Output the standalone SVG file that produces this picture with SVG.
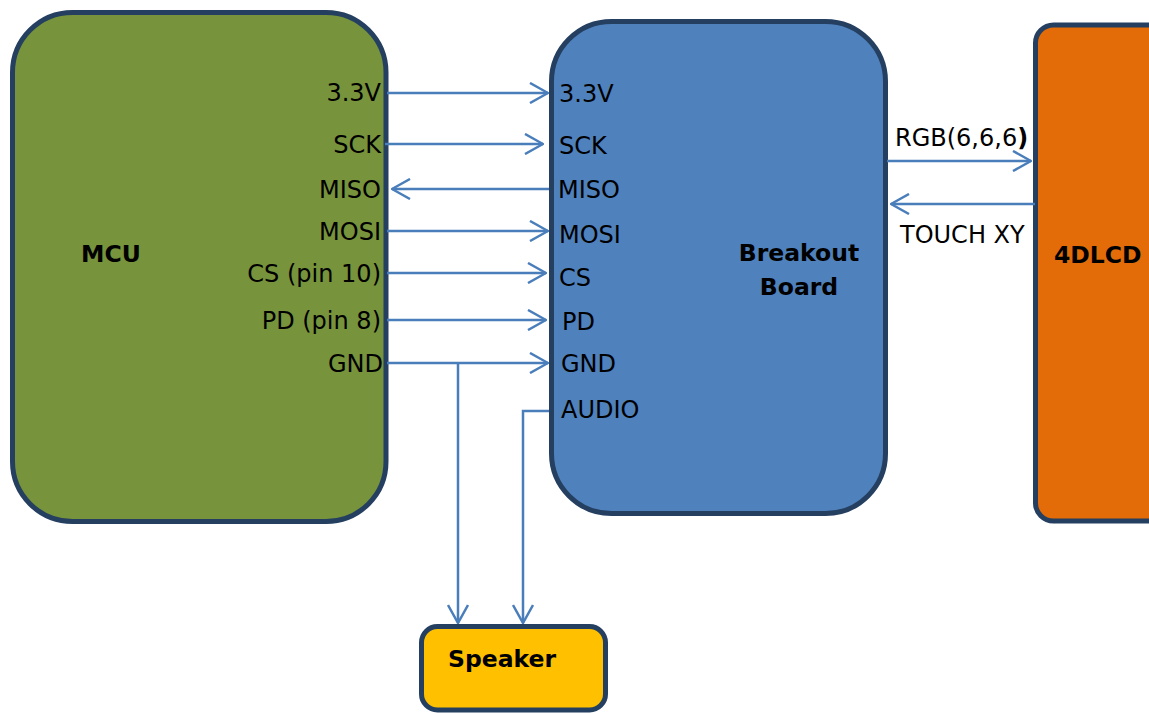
<svg xmlns="http://www.w3.org/2000/svg" width="1149" height="713" viewBox="0 0 1149 713">
  <style>
    .box { stroke: #243F60; stroke-width: 5; }
    .lbl { font-family: "DejaVu Sans", Verdana, sans-serif; font-size: 24px; fill: #000; }
    .ttl { font-family: "DejaVu Sans", Verdana, sans-serif; font-size: 23.5px; font-weight: bold; fill: #000; }
    .r { text-anchor: end; }
    .c { text-anchor: middle; }
    .wire { fill: none; stroke: #4A7EBB; stroke-width: 2.5; }
  </style>
  <defs>
    <marker id="arrow" viewBox="0 0 20 22" refX="19" refY="11" markerWidth="20" markerHeight="22" markerUnits="userSpaceOnUse" orient="auto">
      <polyline points="1,1 19,11 1,21" fill="none" stroke="#4A7EBB" stroke-width="2.5"/>
    </marker>
  </defs>
  <rect width="1149" height="713" fill="#fff"/>

  <g id="mcu">
    <rect class="box" x="12.5" y="12.5" width="373.5" height="509" rx="60" ry="60" fill="#77933C"/>
    <text class="ttl" x="81" y="262">MCU</text>
    <text class="lbl r" x="381" y="101">3.3V</text>
    <text class="lbl r" x="381" y="153">SCK</text>
    <text class="lbl r" x="381" y="198">MISO</text>
    <text class="lbl r" x="381" y="240">MOSI</text>
    <text class="lbl r" x="381" y="282">CS (pin 10)</text>
    <text class="lbl r" x="381" y="329">PD (pin 8)</text>
    <text class="lbl r" x="383" y="372">GND</text>
  </g>

  <g id="breakout">
    <rect class="box" x="551.5" y="21.5" width="334" height="492" rx="60" ry="60" fill="#4F81BD"/>
    <text class="ttl c" x="799" y="261">Breakout</text>
    <text class="ttl c" x="799" y="295">Board</text>
    <text class="lbl" x="559" y="102">3.3V</text>
    <text class="lbl" x="559" y="154">SCK</text>
    <text class="lbl" x="558" y="198">MISO</text>
    <text class="lbl" x="559" y="243">MOSI</text>
    <text class="lbl" x="559" y="286">CS</text>
    <text class="lbl" x="562" y="330">PD</text>
    <text class="lbl" x="561" y="372">GND</text>
    <text class="lbl" x="561" y="418">AUDIO</text>
  </g>

  <g id="lcd">
    <rect class="box" x="1035.5" y="25" width="130" height="496" rx="18" ry="18" fill="#E36C09"/>
    <text class="ttl" x="1054" y="263">4DLCD</text>
  </g>

  <g id="speaker">
    <rect class="box" x="421.5" y="626.5" width="184" height="83.5" rx="16" ry="16" fill="#FFC000"/>
    <text class="ttl" x="448" y="667">Speaker</text>
  </g>

  <g id="connectors">
    <line class="wire" x1="387" y1="93" x2="548" y2="93" marker-end="url(#arrow)"/>
    <line class="wire" x1="385" y1="144" x2="543" y2="144" marker-end="url(#arrow)"/>
    <line class="wire" x1="549" y1="189" x2="392" y2="189" marker-end="url(#arrow)"/>
    <line class="wire" x1="387" y1="231" x2="548" y2="231" marker-end="url(#arrow)"/>
    <line class="wire" x1="387" y1="273" x2="546" y2="273" marker-end="url(#arrow)"/>
    <line class="wire" x1="387" y1="320" x2="546" y2="320" marker-end="url(#arrow)"/>
    <line class="wire" x1="387" y1="363" x2="548" y2="363" marker-end="url(#arrow)"/>
    <line class="wire" x1="458" y1="363" x2="458" y2="623" marker-end="url(#arrow)"/>
    <polyline class="wire" points="549,411 523,411 523,623" marker-end="url(#arrow)"/>
    <line class="wire" x1="887" y1="161" x2="1031" y2="161" marker-end="url(#arrow)"/>
    <line class="wire" x1="1035" y1="204" x2="891" y2="204" marker-end="url(#arrow)"/>
    <text class="lbl" x="895" y="146">RGB(6,6,6<tspan font-weight="bold">)</tspan></text>
    <text class="lbl" x="900" y="243">TOUCH XY</text>
  </g>
</svg>
